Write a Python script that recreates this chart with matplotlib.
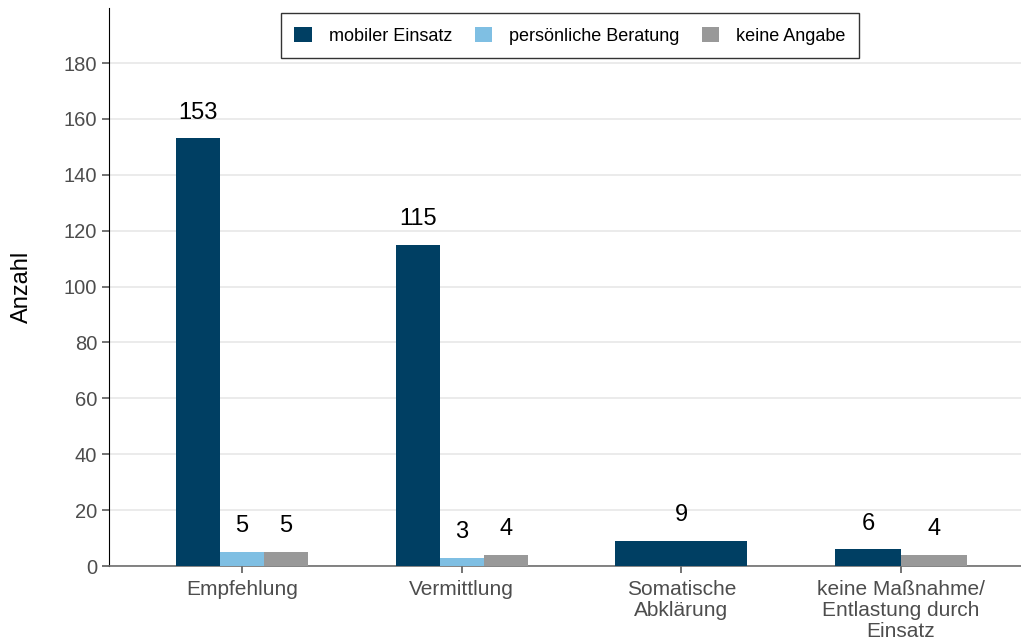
import matplotlib.pyplot as plt
from matplotlib.patches import Patch

plt.rcParams['font.family'] = ['Liberation Sans', 'DejaVu Sans']

# Daten
kategorien = ['Empfehlung', 'Vermittlung', 'Somatische\nAbklärung',
              'keine Maßnahme/\nEntlastung durch\nEinsatz']
gruppen = ['mobiler Einsatz', 'persönliche Beratung', 'keine Angabe']
farben = ['#003f63', '#7fbfe3', '#999999']

mobil = [153, 115, 9, 6]
beratung = [5, 3, None, None]
keine_angabe = [5, 4, None, 4]
werte = [mobil, beratung, keine_angabe]

fig = plt.figure(figsize=(10.21, 6.43), dpi=100)
ax = fig.add_axes([109 / 1021, 77 / 643, 912 / 1021, 558 / 643])

gesamtbreite = 0.6
for i, kat in enumerate(kategorien):
    vorhanden = [g for g in range(len(gruppen)) if werte[g][i] is not None]
    n = len(vorhanden)
    b = gesamtbreite / n
    for k, g in enumerate(vorhanden):
        x = i - gesamtbreite / 2 + b * (k + 0.5)
        v = werte[g][i]
        ax.bar(x, v, width=b, color=farben[g], zorder=3)
        ax.annotate(str(v), (x, v), xytext=(0, 18.5), textcoords='offset points',
                    ha='center', va='center', fontsize=17, color='black')

ax.set_xlim(-0.605, 3.546)
ax.set_ylim(0, 199.7)
ax.set_yticks(range(0, 181, 20))
ax.set_xticks(range(len(kategorien)))
ax.set_xticklabels(kategorien, linespacing=1.15)
ax.tick_params(axis='both', colors='#4d4d4d', length=5, width=1.1)
ax.tick_params(axis='y', labelsize=14.5)
ax.tick_params(axis='x', labelsize=15, pad=5)
ax.set_ylabel('Anzahl', fontsize=17, labelpad=22)

ax.grid(axis='y', color='#e5e5e5', linewidth=1.1, zorder=0)
for s in ['top', 'right']:
    ax.spines[s].set_visible(False)
ax.spines['left'].set_color('black')
ax.spines['bottom'].set_color('#6e6e6e')
ax.spines['bottom'].set_linewidth(1.2)

handles = [Patch(facecolor=c, label=l) for c, l in zip(farben, gruppen)]
leg = fig.legend(handles=handles, loc='upper center', bbox_to_anchor=(570 / 1021, 1 - 13 / 643),
                 ncol=3, frameon=True, fancybox=False, fontsize=13, handlelength=0.95,
                 handleheight=0.95, columnspacing=1.25, handletextpad=0.95, borderpad=0.75,
                 borderaxespad=0)
leg.get_frame().set_edgecolor('black')
leg.get_frame().set_linewidth(1.0)

plt.savefig('out.png', dpi=100)
